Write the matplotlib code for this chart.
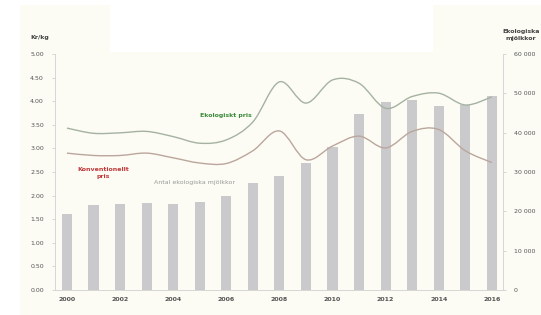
import numpy as np
import matplotlib.pyplot as plt
from matplotlib.path import Path
from matplotlib.patches import PathPatch, Rectangle

# data
years = list(range(2000, 2017))
kor = [19300, 21600, 21900, 22100, 21800, 22400, 24000, 27200, 29000,
       32400, 36400, 44800, 47900, 48300, 46800, 47000, 49200]
eko_pris = [3.43, 3.32, 3.33, 3.36, 3.25, 3.11, 3.18, 3.56, 4.41,
            3.96, 4.45, 4.38, 3.85, 4.10, 4.17, 3.92, 4.09]
konv_pris = [2.90, 2.85, 2.85, 2.90, 2.80, 2.69, 2.68, 2.95, 3.37,
             2.76, 3.05, 3.26, 3.01, 3.36, 3.40, 2.95, 2.70]

left_ticks = np.arange(0, 5.01, 0.5)
right_ticks = np.arange(0, 60001, 10000)
xtick_years = years[::2]


def smooth_path(x, y):
    # excel-like smoothed line: catmull-rom segments as cubic beziers
    pts = np.column_stack([x, y]).astype(float)
    p = np.vstack([pts[0], pts, pts[-1]])
    verts = [pts[0]]
    codes = [Path.MOVETO]
    for i in range(1, len(p) - 2):
        c1 = p[i] + (p[i + 1] - p[i - 1]) / 6
        c2 = p[i + 1] - (p[i + 2] - p[i]) / 6
        verts += [c1, c2, p[i + 1]]
        codes += [Path.CURVE4] * 3
    return Path(verts, codes)


fig = plt.figure(figsize=(5.41, 3.15), dpi=100)
fig.patch.set_facecolor('#fcfcf4')
# white scan margins
for (x0, y0, w, h) in [(0, 0, 20, 315), (0, 0, 541, 5), (110, 0, 323, 52)]:
    fig.patches.append(Rectangle((x0 / 541, 1 - (y0 + h) / 315), w / 541, h / 315,
                                 transform=fig.transFigure, facecolor='white',
                                 edgecolor='none', zorder=0))

ax2 = fig.add_axes([55 / 541, 1 - 290 / 315, 448 / 541, 236 / 315])
ax = ax2.twinx()
ax.yaxis.set_label_position('left')
ax.yaxis.tick_left()
ax2.yaxis.set_label_position('right')
ax2.yaxis.tick_right()
ax2.set_facecolor('none')
ax.set_facecolor('none')

# bars on the right axis
ax2.bar(years, kor, width=0.38, color='#cacacc', zorder=2)
ax2.set_ylim(0, 60000)
ax2.set_yticks(right_ticks)
ax2.set_yticklabels(['0' if v == 0 else '{:,}'.format(int(v)).replace(',', ' ') for v in right_ticks])

# price lines on the left axis
ax.add_patch(PathPatch(smooth_path(years, eko_pris), fill=False,
                       edgecolor='#a5b2a2', lw=1.0, zorder=3))
ax.add_patch(PathPatch(smooth_path(years, konv_pris), fill=False,
                       edgecolor='#bba69d', lw=1.0, zorder=3))
ax.set_ylim(0, 5)
ax.set_yticks(left_ticks)
ax.set_yticklabels(['%.2f' % v for v in left_ticks])
ax.set_xlim(1999.55, 2016.42)
ax2.set_xticks(xtick_years)
ax2.set_xticklabels([str(y) for y in xtick_years], fontweight='bold')

for a in (ax, ax2):
    for s in a.spines.values():
        s.set_visible(False)
    a.tick_params(labelsize=4.5, colors='#d0d0d0', labelcolor='#555555',
                  length=2, width=0.6, pad=6)
ax2.tick_params(axis='x', length=0, pad=5)
ax.spines['left'].set_visible(True)
ax2.spines['right'].set_visible(True)
ax2.spines['bottom'].set_visible(True)
for s in (ax.spines['left'], ax2.spines['right'], ax2.spines['bottom']):
    s.set_color('#d6d6d6')
    s.set_linewidth(0.7)

# labels
ax.text(2005.98, 3.69, 'Ekologiskt pris', color='#3c8a3c', fontsize=4.5,
        fontweight='bold', ha='center', va='center', zorder=5)
ax.text(2001.35, 2.48, 'Konventionellt\npris', color='#c0393b', fontsize=4.5,
        fontweight='bold', ha='center', va='center', linespacing=1.6, zorder=5)
ax.text(2004.8, 2.27, 'Antal ekologiska mjölkkor', color='#999999', fontsize=4.5,
        ha='center', va='center', zorder=5)

fig.text(40 / 541, 1 - 37 / 315, 'Kr/kg', fontsize=4.5, fontweight='bold',
         color='#444444', ha='center', va='center')
fig.text(521 / 541, 1 - 35 / 315, 'Ekologiska\nmjölkkor', fontsize=4.5,
         fontweight='bold', color='#444444', ha='center', va='center',
         linespacing=1.5)

fig.savefig('out.png', dpi=100, facecolor=fig.get_facecolor())
